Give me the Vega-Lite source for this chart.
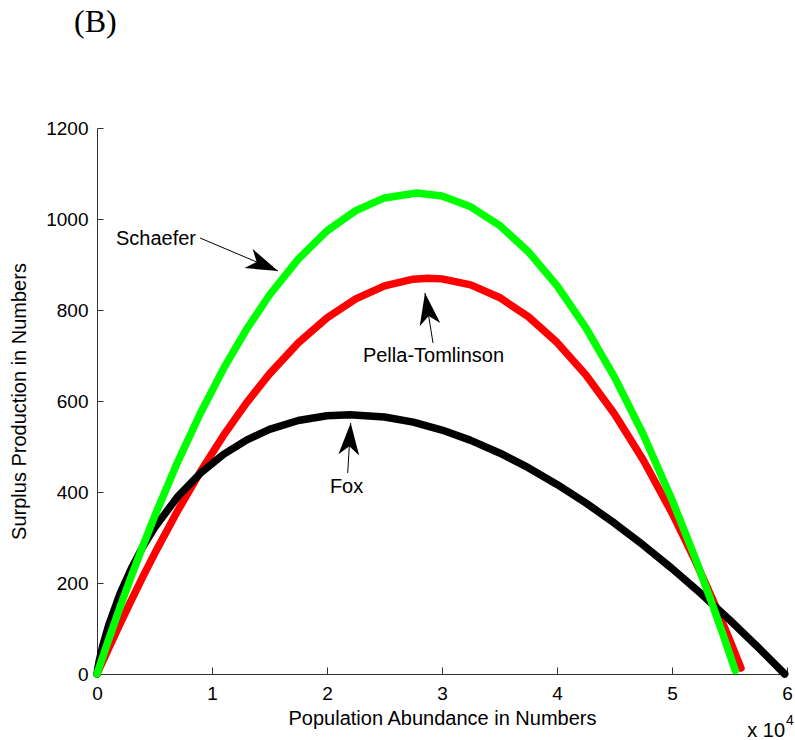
{
  "$schema": "https://vega.github.io/schema/vega-lite/v6.json",
  "width": 690,
  "height": 546,
  "autosize": "none",
  "padding": {"left": 97, "top": 128, "right": 8, "bottom": 66},
  "background": "white",
  "title": {"text": "(B)", "font": "Liberation Serif", "fontSize": 32, "fontWeight": "normal", "color": "black", "anchor": "start", "frame": "group", "dx": -23, "offset": 55, "baseline": "alphabetic"},
  "config": {
    "view": {"stroke": null},
    "axis": {"grid": false, "domainColor": "#333333", "tickColor": "#333333", "labelColor": "black", "titleColor": "black", "labelFont": "Liberation Sans", "titleFont": "Liberation Sans", "labelFontSize": 19, "titleFontSize": 20, "titleFontWeight": "normal", "labelFlush": false, "labelOverlap": false}
  },
  "datasets": {
    "curves": [
      {"model": "Pella-Tomlinson", "x": 0, "y": 0},
      {"model": "Pella-Tomlinson", "x": 0.05, "y": 28.0},
      {"model": "Pella-Tomlinson", "x": 0.1, "y": 55.8},
      {"model": "Pella-Tomlinson", "x": 0.2, "y": 110.2},
      {"model": "Pella-Tomlinson", "x": 0.3, "y": 163.1},
      {"model": "Pella-Tomlinson", "x": 0.4, "y": 214.4},
      {"model": "Pella-Tomlinson", "x": 0.5, "y": 264.1},
      {"model": "Pella-Tomlinson", "x": 0.7, "y": 358.2},
      {"model": "Pella-Tomlinson", "x": 0.9, "y": 445.0},
      {"model": "Pella-Tomlinson", "x": 1.1, "y": 524.4},
      {"model": "Pella-Tomlinson", "x": 1.3, "y": 596.0},
      {"model": "Pella-Tomlinson", "x": 1.5, "y": 659.6},
      {"model": "Pella-Tomlinson", "x": 1.75, "y": 727.7},
      {"model": "Pella-Tomlinson", "x": 2.0, "y": 782.8},
      {"model": "Pella-Tomlinson", "x": 2.25, "y": 824.6},
      {"model": "Pella-Tomlinson", "x": 2.5, "y": 853.0},
      {"model": "Pella-Tomlinson", "x": 2.75, "y": 867.7},
      {"model": "Pella-Tomlinson", "x": 2.88, "y": 869.8},
      {"model": "Pella-Tomlinson", "x": 3.0, "y": 868.4},
      {"model": "Pella-Tomlinson", "x": 3.25, "y": 855.1},
      {"model": "Pella-Tomlinson", "x": 3.5, "y": 827.5},
      {"model": "Pella-Tomlinson", "x": 3.75, "y": 785.4},
      {"model": "Pella-Tomlinson", "x": 4.0, "y": 728.8},
      {"model": "Pella-Tomlinson", "x": 4.25, "y": 657.6},
      {"model": "Pella-Tomlinson", "x": 4.5, "y": 571.3},
      {"model": "Pella-Tomlinson", "x": 4.75, "y": 470.3},
      {"model": "Pella-Tomlinson", "x": 5.0, "y": 354.0},
      {"model": "Pella-Tomlinson", "x": 5.2, "y": 250.2},
      {"model": "Pella-Tomlinson", "x": 5.35, "y": 165.8},
      {"model": "Pella-Tomlinson", "x": 5.5, "y": 75.9},
      {"model": "Pella-Tomlinson", "x": 5.6, "y": 12.9},
      {"model": "Fox", "x": 0, "y": 0},
      {"model": "Fox", "x": 0.01, "y": 16.6},
      {"model": "Fox", "x": 0.02, "y": 29.5},
      {"model": "Fox", "x": 0.05, "y": 62.0},
      {"model": "Fox", "x": 0.1, "y": 106.0},
      {"model": "Fox", "x": 0.2, "y": 176.1},
      {"model": "Fox", "x": 0.3, "y": 232.6},
      {"model": "Fox", "x": 0.4, "y": 280.3},
      {"model": "Fox", "x": 0.5, "y": 321.5},
      {"model": "Fox", "x": 0.7, "y": 389.1},
      {"model": "Fox", "x": 0.9, "y": 441.6},
      {"model": "Fox", "x": 1.1, "y": 482.6},
      {"model": "Fox", "x": 1.3, "y": 514.0},
      {"model": "Fox", "x": 1.5, "y": 537.5},
      {"model": "Fox", "x": 1.75, "y": 557.2},
      {"model": "Fox", "x": 2.0, "y": 567.6},
      {"model": "Fox", "x": 2.2, "y": 570.0},
      {"model": "Fox", "x": 2.5, "y": 564.9},
      {"model": "Fox", "x": 2.75, "y": 553.5},
      {"model": "Fox", "x": 3.0, "y": 536.2},
      {"model": "Fox", "x": 3.25, "y": 513.5},
      {"model": "Fox", "x": 3.5, "y": 485.8},
      {"model": "Fox", "x": 3.75, "y": 453.5},
      {"model": "Fox", "x": 4.0, "y": 416.7},
      {"model": "Fox", "x": 4.25, "y": 376.1},
      {"model": "Fox", "x": 4.5, "y": 331.5},
      {"model": "Fox", "x": 4.75, "y": 283.4},
      {"model": "Fox", "x": 5.0, "y": 231.9},
      {"model": "Fox", "x": 5.25, "y": 177.1},
      {"model": "Fox", "x": 5.5, "y": 119.2},
      {"model": "Fox", "x": 5.75, "y": 58.4},
      {"model": "Fox", "x": 5.98, "y": 0},
      {"model": "Schaefer", "x": 0, "y": 0},
      {"model": "Schaefer", "x": 0.05, "y": 37.7},
      {"model": "Schaefer", "x": 0.1, "y": 74.7},
      {"model": "Schaefer", "x": 0.2, "y": 146.6},
      {"model": "Schaefer", "x": 0.3, "y": 215.8},
      {"model": "Schaefer", "x": 0.4, "y": 282.3},
      {"model": "Schaefer", "x": 0.5, "y": 346.0},
      {"model": "Schaefer", "x": 0.7, "y": 465.3},
      {"model": "Schaefer", "x": 0.9, "y": 573.6},
      {"model": "Schaefer", "x": 1.1, "y": 671.0},
      {"model": "Schaefer", "x": 1.3, "y": 757.4},
      {"model": "Schaefer", "x": 1.5, "y": 832.9},
      {"model": "Schaefer", "x": 1.75, "y": 911.9},
      {"model": "Schaefer", "x": 2.0, "y": 973.8},
      {"model": "Schaefer", "x": 2.25, "y": 1018.5},
      {"model": "Schaefer", "x": 2.5, "y": 1046.3},
      {"model": "Schaefer", "x": 2.78, "y": 1057.0},
      {"model": "Schaefer", "x": 3.0, "y": 1050.4},
      {"model": "Schaefer", "x": 3.25, "y": 1026.8},
      {"model": "Schaefer", "x": 3.5, "y": 986.1},
      {"model": "Schaefer", "x": 3.75, "y": 928.3},
      {"model": "Schaefer", "x": 4.0, "y": 853.4},
      {"model": "Schaefer", "x": 4.25, "y": 761.4},
      {"model": "Schaefer", "x": 4.5, "y": 652.4},
      {"model": "Schaefer", "x": 4.75, "y": 526.3},
      {"model": "Schaefer", "x": 5.0, "y": 383.0},
      {"model": "Schaefer", "x": 5.2, "y": 256.1},
      {"model": "Schaefer", "x": 5.35, "y": 153.6},
      {"model": "Schaefer", "x": 5.45, "y": 82.1},
      {"model": "Schaefer", "x": 5.55, "y": 7.7}
    ],
    "labels": [
      {"label": "Schaefer", "x": 0.513, "y": 942.9},
      {"label": "Pella-Tomlinson", "x": 2.926, "y": 685.7},
      {"label": "Fox", "x": 2.17, "y": 398.5}
    ],
    "arrows": [
      {"label": "Schaefer", "x": 0.896, "y": 958.2, "x2": 1.574, "y2": 885.7},
      {"label": "Pella-Tomlinson", "x": 2.922, "y": 727.5, "x2": 2.852, "y2": 837.4},
      {"label": "Fox", "x": 2.18, "y": 441.8, "x2": 2.206, "y2": 551.6}
    ],
    "exponent": [
      {"part": "base", "text": "x 10", "x": 5.983, "y": -138.5},
      {"part": "power", "text": "4", "x": 5.983, "y": -112}
    ]
  },
  "encoding": {
    "x": {"field": "x", "type": "quantitative", "scale": {"domain": [0, 6], "nice": false, "zero": false}, "axis": {"title": "Population Abundance in Numbers", "values": [0, 1, 2, 3, 4, 5, 6], "format": "d", "tickSize": -7, "labelPadding": 17, "titlePadding": 5}},
    "y": {"field": "y", "type": "quantitative", "scale": {"domain": [0, 1200], "nice": false, "zero": false}, "axis": {"title": "Surplus Production in Numbers", "values": [0, 200, 400, 600, 800, 1000, 1200], "format": "d", "tickSize": -6, "labelPadding": 15, "titlePadding": 16}}
  },
  "layer": [
    {
      "data": {"name": "curves"},
      "transform": [{"filter": "datum.model === 'Pella-Tomlinson'"}],
      "mark": {"type": "line", "color": "#ff0000", "strokeWidth": 7.5, "strokeCap": "round", "strokeJoin": "round"}
    },
    {
      "data": {"name": "curves"},
      "transform": [{"filter": "datum.model === 'Fox'"}],
      "mark": {"type": "line", "color": "#000000", "strokeWidth": 7.5, "strokeCap": "round", "strokeJoin": "round"}
    },
    {
      "data": {"name": "curves"},
      "transform": [{"filter": "datum.model === 'Schaefer'"}],
      "mark": {"type": "line", "color": "#00ff00", "strokeWidth": 7.5, "strokeCap": "round", "strokeJoin": "round"}
    },
    {
      "data": {"name": "arrows"},
      "mark": {"type": "rule", "color": "black", "strokeWidth": 1},
      "encoding": {"x2": {"field": "x2"}, "y2": {"field": "y2"}}
    },
    {
      "data": {"name": "arrows"},
      "transform": [{"filter": "datum.label === 'Schaefer'"}],
      "mark": {"type": "point", "shape": "M0,0 L0.65,2 L0,1.45 L-0.65,2 Z", "filled": true, "color": "black", "opacity": 1, "size": 1024, "angle": 113},
      "encoding": {"x": {"field": "x2", "type": "quantitative"}, "y": {"field": "y2", "type": "quantitative"}}
    },
    {
      "data": {"name": "arrows"},
      "transform": [{"filter": "datum.label === 'Pella-Tomlinson'"}],
      "mark": {"type": "point", "shape": "M0,0 L0.65,2 L0,1.45 L-0.65,2 Z", "filled": true, "color": "black", "opacity": 1, "size": 1024, "angle": 351},
      "encoding": {"x": {"field": "x2", "type": "quantitative"}, "y": {"field": "y2", "type": "quantitative"}}
    },
    {
      "data": {"name": "arrows"},
      "transform": [{"filter": "datum.label === 'Fox'"}],
      "mark": {"type": "point", "shape": "M0,0 L0.65,2 L0,1.45 L-0.65,2 Z", "filled": true, "color": "black", "opacity": 1, "size": 1024, "angle": 3.4},
      "encoding": {"x": {"field": "x2", "type": "quantitative"}, "y": {"field": "y2", "type": "quantitative"}}
    },
    {
      "data": {"name": "labels"},
      "mark": {"type": "text", "font": "Liberation Sans", "fontSize": 20, "color": "black", "align": "center", "baseline": "alphabetic"},
      "encoding": {"text": {"field": "label"}}
    },
    {
      "data": {"name": "exponent"},
      "transform": [{"filter": "datum.part === 'base'"}],
      "mark": {"type": "text", "font": "Liberation Sans", "fontSize": 20, "color": "black", "align": "right", "baseline": "alphabetic"},
      "encoding": {"text": {"field": "text"}}
    },
    {
      "data": {"name": "exponent"},
      "transform": [{"filter": "datum.part === 'power'"}],
      "mark": {"type": "text", "font": "Liberation Sans", "fontSize": 14, "color": "black", "align": "left", "baseline": "alphabetic", "dx": 1},
      "encoding": {"text": {"field": "text"}}
    }
  ]
}
